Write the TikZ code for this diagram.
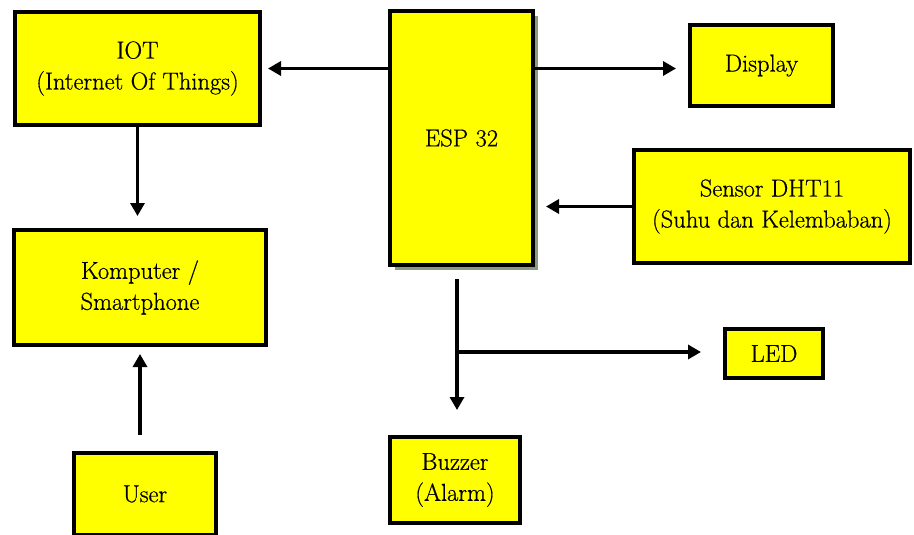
\documentclass[tikz,border=0pt]{standalone}
\usepackage{fontspec}
\newfontfamily\lmdark{Latin Modern Roman}[FakeBold=0.6]
\usetikzlibrary{arrows.meta,shadows}
\definecolor{boxyellow}{RGB}{255,255,0}
\definecolor{espshadow}{RGB}{140,155,128}
\tikzset{
  blk/.style={draw=black, line width=4pt, fill=boxyellow, align=center,
    inner sep=0pt, font=\lmdark\fontsize{24.5}{31}\selectfont},
  lightshadow/.style={drop shadow={shadow xshift=1.5pt, shadow yshift=-1.5pt, fill=black!25, opacity=1}},
  espshade/.style={drop shadow={shadow xshift=5pt, shadow yshift=-5pt, fill=espshadow, opacity=1}},
  conn/.style={line width=3.8pt, -{Triangle[length=13pt,width=14pt]}}
}
\begin{document}
\begin{tikzpicture}[x=1pt,y=-1pt]
\useasboundingbox (0,0) rectangle (914,535);
\node[blk, lightshadow, minimum width=245pt, minimum height=113pt] (iot) at (137.5,68.5) {IOT\\(Internet Of Things)};
\node[blk, espshade, minimum width=143pt, minimum height=254pt] (esp) at (461.5,138) {ESP 32};
\node[blk, lightshadow, minimum width=143pt, minimum height=81pt] (disp) at (761.5,65.5) {Display};
\node[blk, lightshadow, minimum width=276pt, minimum height=113pt] (sensor) at (772,206.5) {Sensor DHT11\\(Suhu dan Kelembaban)};
\node[blk, lightshadow, minimum width=252pt, minimum height=115pt] (komp) at (140,287.5) {Komputer /\\Smartphone};
\node[blk, lightshadow, minimum width=142pt, minimum height=82pt] (user) at (145,494) {User};
\node[blk, lightshadow, minimum width=98pt, minimum height=49pt] (led) at (774,353.5) {LED};
\node[blk, lightshadow, minimum width=130pt, minimum height=86pt] (buzzer) at (455,480) {Buzzer\\(Alarm)};
\coordinate (j) at (457,352);
\draw[conn, shorten >=6pt] (esp.west |- iot) -- (iot.east);
\draw[conn, shorten >=12pt] (esp.east |- iot) -- (iot -| disp.west);
\draw[conn, shorten >=11pt] (sensor.west) -- (esp.east |- sensor.west);
\draw[conn, shorten >=12pt] (iot.south) -- (iot.south |- komp.north);
\draw[conn, shorten <=16pt, shorten >=7pt] (komp.south |- user.north) -- (komp.south);
\draw[conn, shorten <=12pt, shorten >=25pt] (esp.south -| j) -- (buzzer.north -| j);
\draw[conn, shorten >=22pt] (j) -- (j -| led.west);
\end{tikzpicture}
\end{document}
